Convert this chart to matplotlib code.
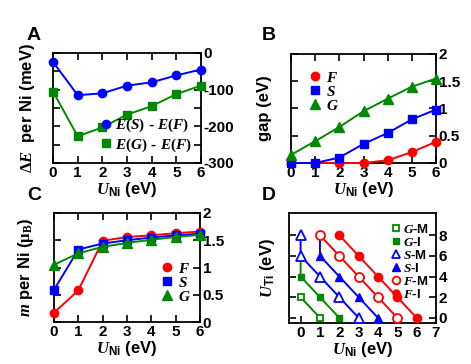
import numpy as np
import matplotlib
matplotlib.use("Agg")
import matplotlib.pyplot as plt
from matplotlib.ticker import FixedLocator
from matplotlib.lines import Line2D

plt.rcParams['font.family'] = ['Liberation Sans', 'DejaVu Sans']
plt.rcParams['font.weight'] = 'bold'
plt.rcParams['axes.labelweight'] = 'bold'
plt.rcParams['mathtext.fontset'] = 'custom'
plt.rcParams['mathtext.it'] = 'Liberation Serif:italic'
plt.rcParams['mathtext.rm'] = 'Liberation Serif'
plt.rcParams['mathtext.bf'] = 'Liberation Sans:bold'
plt.rcParams['mathtext.sf'] = 'Liberation Sans:bold'
plt.rcParams['axes.linewidth'] = 1.3

# ---------------- data ----------------
U_ni = [0, 1, 2, 3, 4, 5, 6]
# Panel A
dE_S = [-24, -115, -110, -89, -80, -61, -45]
dE_G = [-105, -227, -203, -168, -145, -112, -89]
# Panel B
gap_F = [0, 0, 0, 0, 0.05, 0.20, 0.39]
gap_S = [0, 0, 0.10, 0.35, 0.55, 0.80, 0.98]
gap_G = [0.15, 0.40, 0.66, 0.95, 1.18, 1.40, 1.55]
# Panel C
m_F = [0.17, 0.58, 1.49, 1.56, 1.59, 1.63, 1.66]
m_S = [0.59, 1.33, 1.44, 1.50, 1.55, 1.59, 1.62]
m_G = [1.05, 1.26, 1.38, 1.45, 1.51, 1.56, 1.60]
# Panel D (phase boundaries)
GM_x, GM_y = [0, 1], [2, 0]
GI_x, GI_y = [0, 1, 2], [4, 2, 0]
SM_x, SM_y = [0, 0, 1, 2, 3], [8, 6, 4, 2, 0]
SI_x, SI_y = [1, 2, 3, 4], [6, 4, 2, 0]
FM_x, FM_y = [1, 2, 3, 4, 5], [8, 6, 4, 2, 0]
FI_x, FI_y = [2, 3, 4, 5, 6], [8, 6, 4, 2, 0]

RED, BLUE, GREEN = '#ff0000', '#0000ff', '#008800'

W, H = 471, 364
fig = plt.figure(figsize=(W / 100, H / 100), dpi=100)

def px_axes(l, r, t, b):
    return fig.add_axes([l / W, 1 - b / H, (r - l) / W, (b - t) / H])

axA = px_axes(53, 201, 53, 163)
axB = px_axes(291, 436, 54, 163)
axC = px_axes(54, 200, 213, 322)
axD = px_axes(289, 436, 213, 323)

xlabel = r'$U_{\mathsf{Ni}}$ (eV)'
lw = 1.4
fs_tick = 11

def style(ax, yt, ylabels):
    ax.set_xlim(0, 6)
    ax.set_xticks(U_ni)
    ax.yaxis.set_major_locator(FixedLocator(yt))
    ax.set_yticklabels(ylabels)
    ax.tick_params(direction='in', top=True, right=True, left=True, bottom=True,
                   labelleft=False, labelright=True, length=5, width=1.2,
                   labelsize=fs_tick, pad=2)
    ax.set_xlabel(xlabel, fontsize=12, labelpad=0)

def proxies(ax):
    hs = []
    for ln in ax.get_lines():
        if ln.get_label().startswith('_'):
            continue
        hs.append(Line2D([], [], ls='none', marker=ln.get_marker(), ms=ln.get_markersize(),
                         mfc=ln.get_markerfacecolor(), mec=ln.get_markeredgecolor(),
                         mew=ln.get_markeredgewidth(), label=ln.get_label()))
    return hs

# Panel A
axA.plot(U_ni, dE_S, '-o', color=BLUE, lw=lw, ms=6, clip_on=False, zorder=3, label=r'$E(S)$ - $E(F)$')
axA.plot(U_ni, dE_G, '-s', color=GREEN, lw=lw, ms=5.5, clip_on=False, zorder=3, label=r'$E(G)$ - $E(F)$')
axA.set_ylim(-300, 0)
style(axA, [-300, -250, -200, -150, -100, -50, 0],
      ['-300', '', '-200', '', '-100', '', '0'])
axA.set_ylabel(r'$\Delta E$  per Ni (meV)', fontsize=12)
axA.yaxis.set_label_coords(-0.11, 0.5)
axA.legend(handles=proxies(axA), loc='lower right', frameon=False, fontsize=11, handlelength=0.6,
           handletextpad=0.3, borderaxespad=0.2, labelspacing=0.15,
           bbox_to_anchor=(1.0, 0.0))

# Panel B
axB.plot(U_ni, gap_F, '-o', color=RED, lw=lw, ms=6, clip_on=False, zorder=3, label=r'$F$')
axB.plot(U_ni, gap_S, '-s', color=BLUE, lw=lw, ms=5.5, clip_on=False, zorder=4, label=r'$S$')
axB.plot(U_ni, gap_G, '-^', color=GREEN, lw=lw, ms=6.5, clip_on=False, zorder=5, label=r'$G$')
axB.set_ylim(0, 2)
style(axB, [0, 0.5, 1, 1.5, 2], ['0', '0.5', '1', '1.5', '2'])
axB.set_ylabel('gap (eV)', fontsize=12)
axB.yaxis.set_label_coords(-0.13, 0.5)
axB.legend(handles=proxies(axB), loc='upper left', frameon=False, fontsize=11, handlelength=0.6,
           handletextpad=0.4, borderaxespad=0.2, labelspacing=0.0,
           bbox_to_anchor=(0.07, 0.93))

# Panel C
axC.plot(U_ni, m_F, '-o', color=RED, lw=lw, ms=6, clip_on=False, zorder=3, label=r'$F$')
axC.plot(U_ni, m_S, '-s', color=BLUE, lw=lw, ms=5.5, clip_on=False, zorder=4, label=r'$S$')
axC.plot(U_ni, m_G, '-^', color=GREEN, lw=lw, ms=6.5, clip_on=False, zorder=5, label=r'$G$')
axC.set_ylim(0, 2)
style(axC, [0, 0.5, 1, 1.5, 2], ['0', '0.5', '1', '1.5', '2'])
axC.set_ylabel(r'$m$ per Ni ($\mathrm{\mu_B}$)', fontsize=12)
axC.yaxis.set_label_coords(-0.12, 0.5)
axC.legend(handles=proxies(axC), loc='center right', frameon=False, fontsize=11, handlelength=0.6,
           handletextpad=0.4, borderaxespad=0.2, labelspacing=0.0,
           bbox_to_anchor=(1.0, 0.36))

# Panel D
ms_d = 5.5
axD.plot(np.r_[SM_x[1], GI_x], np.r_[SM_y[1], GI_y], '-', color=GREEN, lw=lw, zorder=2)
axD.plot(GM_x, GM_y, '-', color=GREEN, lw=lw, zorder=2)
axD.plot(SM_x, SM_y, '-', color=BLUE, lw=lw, zorder=2)
axD.plot(np.r_[FM_x[0], SI_x], np.r_[FM_y[0], SI_y], '-', color=BLUE, lw=lw, zorder=2)
axD.plot(FM_x, FM_y, '-', color=RED, lw=lw, zorder=2)
axD.plot(FI_x, FI_y, '-', color=RED, lw=lw, zorder=2)
axD.plot(GM_x, GM_y, 's', ls='none', mfc='white', mec=GREEN, mew=1.3, ms=ms_d - 0.5, zorder=3, label=r'$G$-M')
axD.plot(GI_x, GI_y, 's', ls='none', mfc=GREEN, mec=GREEN, ms=ms_d - 0.5, zorder=3, label=r'$G$-I')
axD.plot(SM_x, SM_y, '^', ls='none', mfc='white', mec=BLUE, mew=1.3, ms=ms_d + 1, zorder=3, label=r'$S$-M')
axD.plot(SI_x, SI_y, '^', ls='none', mfc=BLUE, mec=BLUE, ms=ms_d + 0.5, zorder=3, label=r'$S$-I')
axD.plot(FM_x, FM_y, 'o', ls='none', mfc='white', mec=RED, mew=1.3, ms=ms_d + 1, zorder=3, label=r'$F$-M')
axD.plot(FI_x, FI_y, 'o', ls='none', mfc=RED, mec=RED, ms=ms_d + 0.5, zorder=3, label=r'$F$-I')
axD.set_xlim(-0.6, 7)
axD.set_ylim(-0.5, 10.15)
axD.set_xticks([0, 1, 2, 3, 4, 5, 6, 7])
axD.set_yticks([0, 2, 4, 6, 8])
axD.tick_params(direction='in', top=False, right=True, left=True, bottom=True,
                labelleft=False, labelright=True, length=5, width=1.2,
                labelsize=fs_tick, pad=2)
axD.set_xlabel(xlabel, fontsize=12, labelpad=0)
axD.set_ylabel(r'$U_{\mathsf{Ti}}$ (eV)', fontsize=12)
axD.yaxis.set_label_coords(-0.08, 0.5)
hD = proxies(axD)
for h in hD:
    h.set_markersize(h.get_markersize() * 0.85)
axD.legend(handles=hD, loc='upper right', frameon=False, fontsize=9.5, handlelength=0.5,
           handletextpad=0.3, borderaxespad=0.1, labelspacing=0.0,
           bbox_to_anchor=(1.0, 0.97))

# panel letters
for x, y, s in [(27, 40, 'A'), (262, 40, 'B'), (27, 200, 'C'), (262, 200, 'D')]:
    fig.text(x / W, 1 - y / H, s, fontsize=14, fontweight='bold')

fig.savefig('out.png', dpi=100)
